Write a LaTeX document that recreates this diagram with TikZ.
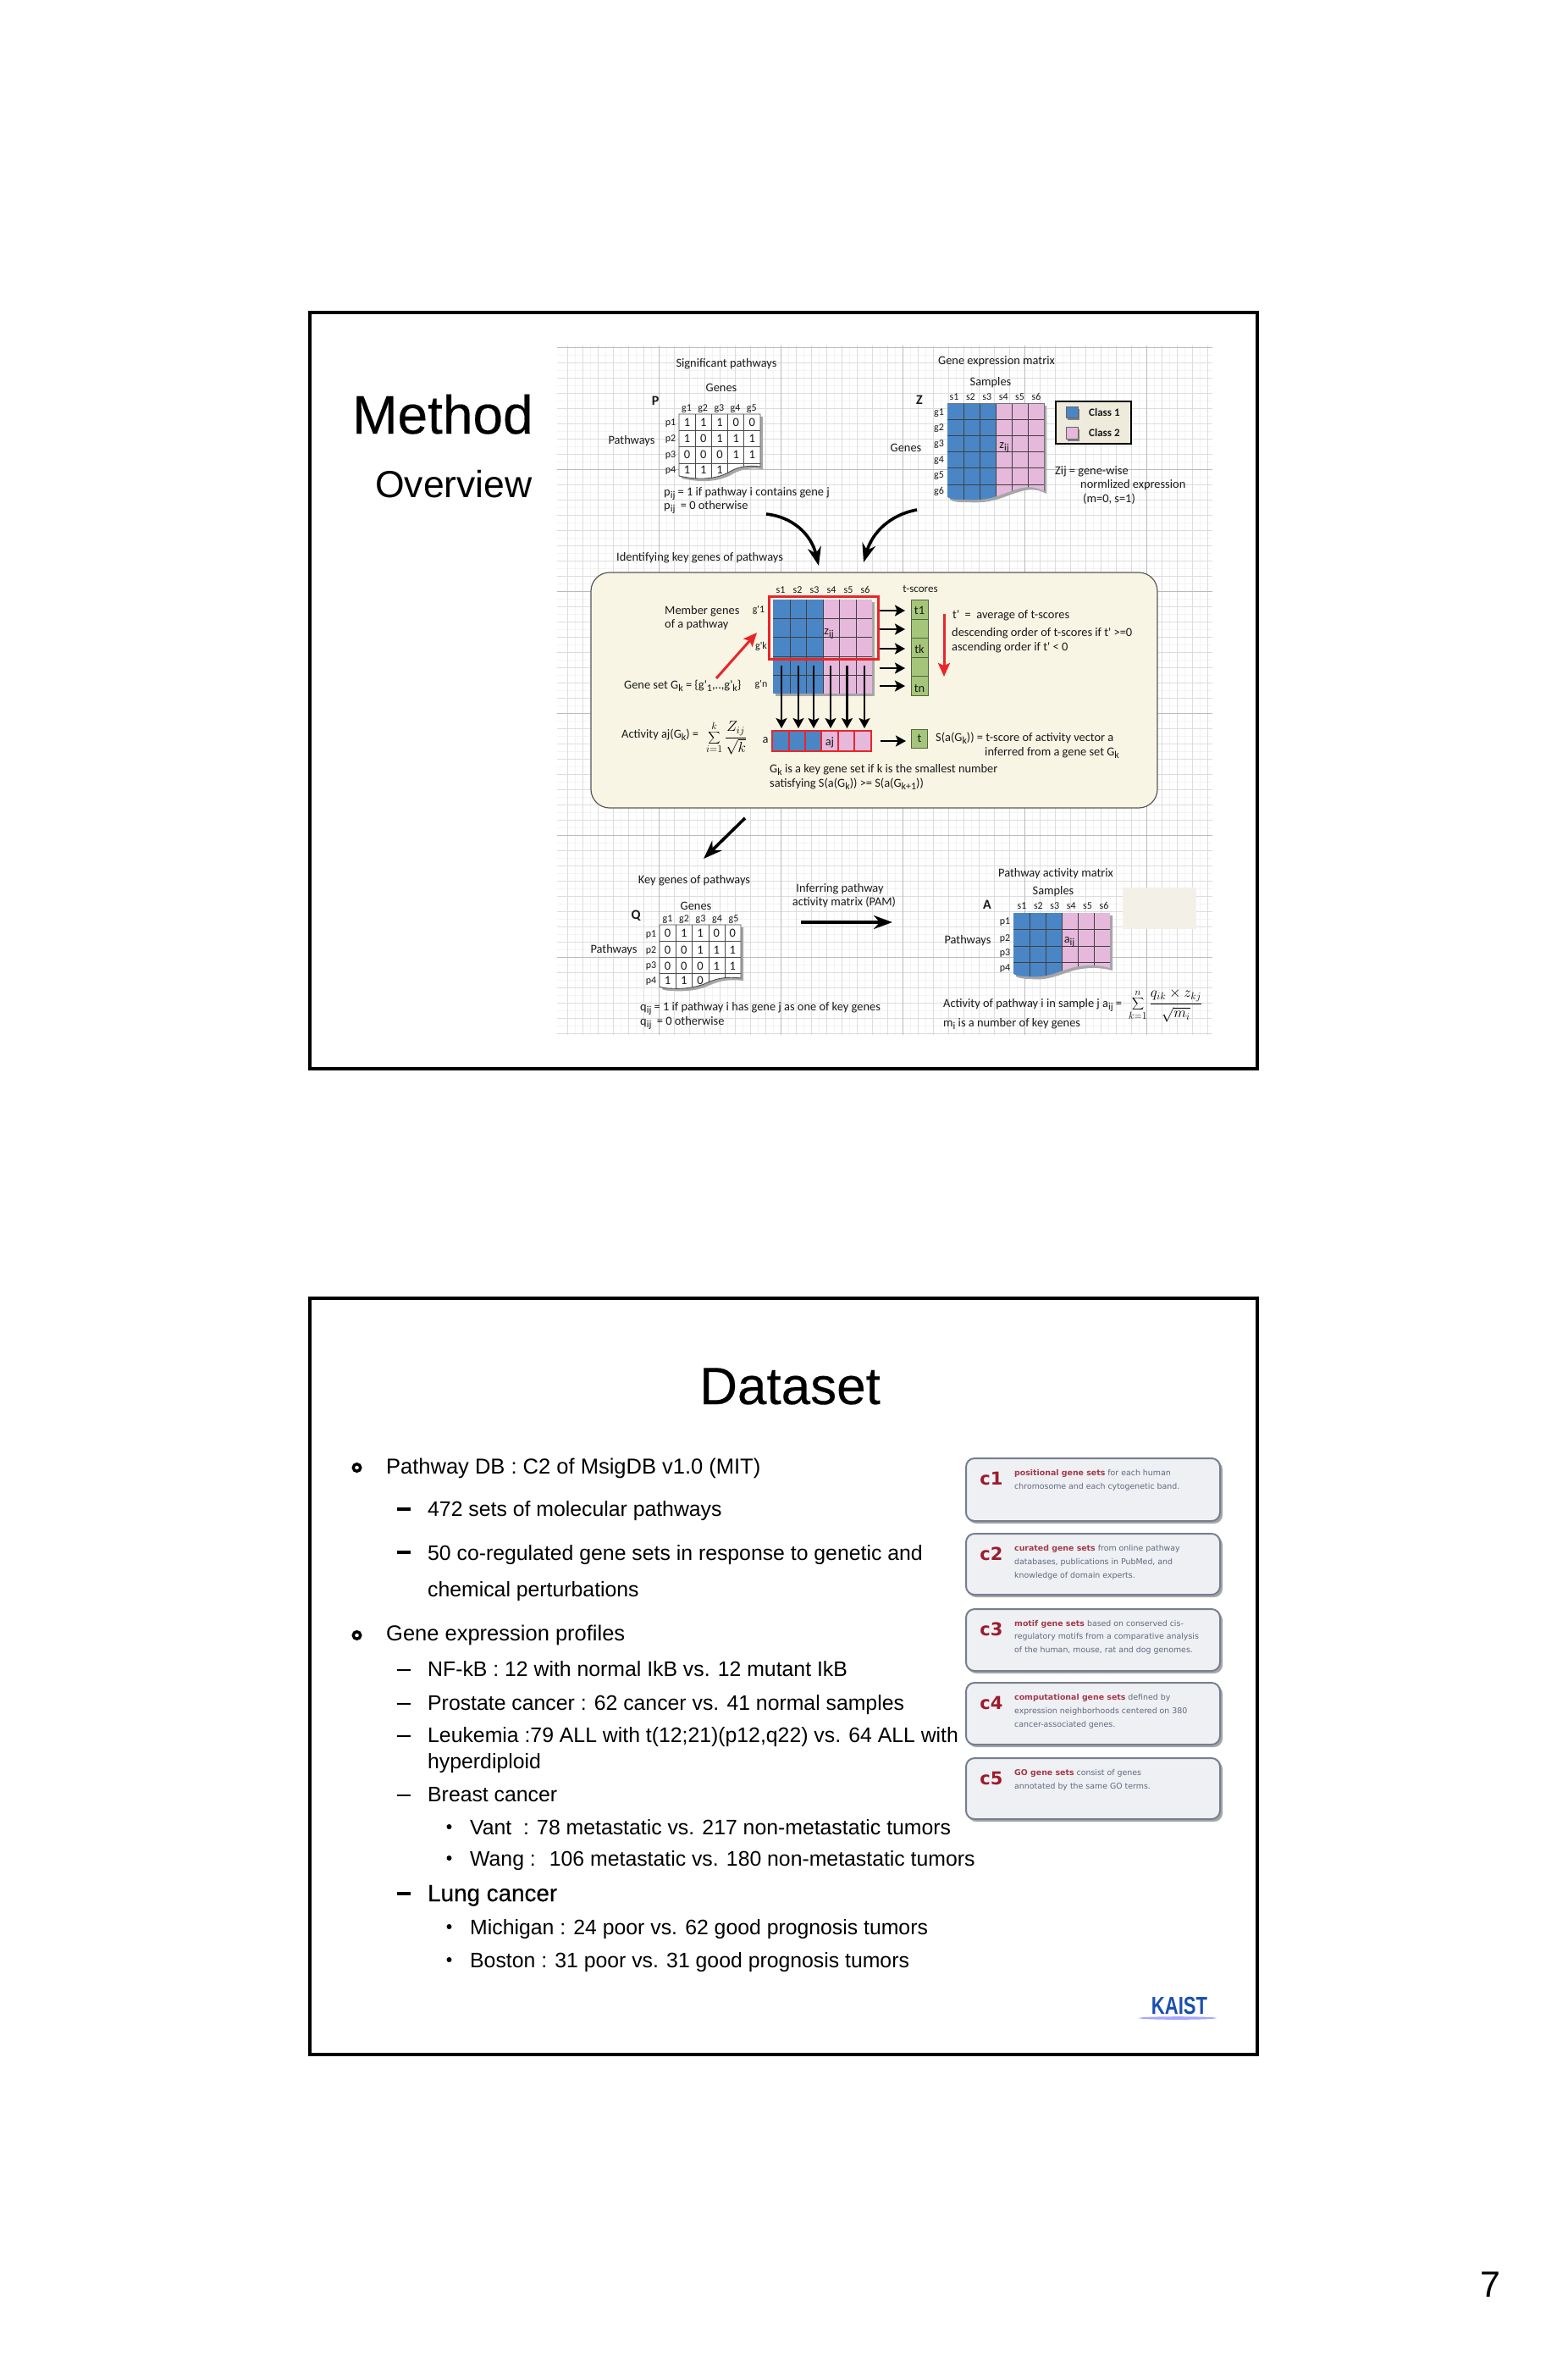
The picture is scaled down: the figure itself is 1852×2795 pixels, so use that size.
\documentclass[tikz,border=0pt]{standalone}
\usepackage{fontspec}
\setmainfont{Liberation Sans}
\newfontfamily\figfam{Carlito}
\newfontfamily\boxfam{DejaVu Sans}
\newfontfamily\lungfam[FakeBold=0.35]{Liberation Sans}
\newfontfamily\titlefam[FakeBold=0.25]{Liberation Sans}
\usetikzlibrary{arrows.meta}
\definecolor{blueC}{HTML}{4A86C5}
\definecolor{pinkC}{HTML}{E5B8DC}
\definecolor{gridA}{HTML}{DDDDDD}
\definecolor{gridB}{HTML}{BBBBBB}
\definecolor{gridC}{HTML}{F3F3F3}
\definecolor{panelC}{HTML}{F8F5E4}
\definecolor{legendC}{HTML}{EEEBDD}
\definecolor{greenC}{HTML}{A5C67A}
\definecolor{boxC}{HTML}{EEF0F4}
\definecolor{boxL}{HTML}{767F90}
\definecolor{redD}{HTML}{9B1C2C}
\definecolor{redT}{HTML}{A33A4A}
\definecolor{grayT}{HTML}{5F697D}
\definecolor{kaistC}{HTML}{1A4FB0}
\definecolor{redA}{HTML}{E8262A}
\newcommand\dn[1]{\raisebox{-3pt}{\fontsize{12}{12}\selectfont #1}}
\newcommand\rd[1]{\textbf{\textcolor{redT}{#1}}}
\tikzset{
  figt/.style={inner sep=0pt,font=\figfam\fontsize{14.4}{16}\selectfont,text=black!90,anchor=mid west,yshift=-1.5pt},
  figc/.style={figt,anchor=mid},
  figsm/.style={figc,font=\figfam\fontsize{12}{14}\selectfont},
  figb/.style={figc,font=\figfam\bfseries\fontsize{16}{18}\selectfont},
  figleg/.style={figt,font=\figfam\bfseries\fontsize{13}{15}\selectfont},
  cell/.style={figc,font=\figfam\fontsize{14.5}{16}\selectfont},
  matline/.style={draw=black!75,line width=1pt},
  binline/.style={draw=black!70,line width=.9pt},
  softshadow/.style={fill=black!35},
  bigarrow/.style={line width=3.6pt,draw=black,-{Stealth[length=22pt,width=16pt,inset=7pt]}},
  midarrow/.style={line width=2.3pt,draw=black,-{Stealth[length=12pt,width=13pt,inset=2.5pt]}},
  redarrow/.style={line width=3pt,draw=redA,-{Stealth[length=16pt,width=14pt,inset=3pt]}},
  frameS/.style={draw=black,line width=4pt},
  bodyt/.style={inner sep=0pt,anchor=base west,font=\fontsize{24.8}{28}\selectfont},
  bodyh/.style={bodyt,font=\fontsize{25.5}{28}\selectfont},
  dashS/.style={inner sep=0pt,minimum width=16.5pt,minimum height=2pt,fill=black},
  dashT/.style={dashS,minimum height=3.2pt},
  dotS/.style={circle,inner sep=0pt,minimum size=6pt,fill=black},
  ringS/.style={circle,inner sep=0pt,minimum size=8.5pt,draw=black,line width=3.4pt},
  cbox/.style={rounded corners=10pt,draw=boxL,line width=2pt,fill=boxC},
  cshadow/.style={rounded corners=10pt,fill=black!35},
  ctag/.style={inner sep=0pt,anchor=mid,font=\boxfam\bfseries\fontsize{21}{24}\selectfont,text=redD},
  ctxt/.style={inner sep=0pt,anchor=mid west,font=\boxfam\fontsize{9.4}{11}\selectfont,text=grayT},
  formula/.style={inner sep=0pt,anchor=mid west,font=\fontsize{17.28}{20}\selectfont},
}
\begin{document}
\begin{tikzpicture}[x=1pt,y=-1pt]
\useasboundingbox (0,0) rectangle (1852,2795);
\fill[white] (0,0) rectangle (1852,2795);

% ---------- slide 1 ----------
\foreach \y in {419,437,...,1211} \draw[gridC,line width=.8pt] (658,\y) -- (1432,\y);
\foreach \x in {679,697,...,1417} \draw[gridC,line width=.8pt] (\x,408) -- (\x,1222);
\foreach \y in {410,428,...,1222} \draw[gridA,line width=1pt] (658,\y) -- (1432,\y);
\foreach \x in {670,688,...,1426} \draw[gridA,line width=1pt] (\x,408) -- (\x,1222);
\foreach \y in {410,554,...,1222} \draw[gridB,line width=1pt] (658,\y) -- (1432,\y);
\foreach \x in {778,922,...,1426} \draw[gridB,line width=1pt] (\x,408) -- (\x,1222);

\draw[frameS] (366,369) rectangle (1485,1262);

\node[inner sep=0pt,anchor=base west,font=\titlefam\fontsize{64}{66}\selectfont] (method) at (416,512) {Method};
\node[inner sep=0pt,anchor=base west,font=\fontsize{44.5}{50}\selectfont] (overview) at (443,587) {Overview};

% ---- P matrix
\def\Ppath{(802,489) -- (898,489) -- (898,551) .. controls (880,549) and (870,552) .. (860,558) .. controls (845,566) and (825,567) .. (802,562) -- cycle}
\fill[softshadow,shift={(3,3)}] \Ppath;
\fill[white] \Ppath;
\begin{scope}
\clip \Ppath;
\foreach \x in {821,840,859,878} \draw[binline] (\x,489) -- (\x,570);
\foreach \y in {508,527,547} \draw[binline] (802,\y) -- (898,\y);
\end{scope}
\draw[binline] \Ppath;
\foreach \r/\y/\vals in {1/499/{1,1,1,0,0},2/518/{1,0,1,1,1},3/537/{0,0,0,1,1},4/555/{1,1,1}}
  \foreach \d [count=\c] in \vals
    \node[cell] (pc\r\c) at ({802+19.2*(\c-.5)},\y) {\d};
\foreach \t [count=\c] in {g1,g2,g3,g4,g5}
  \node[figsm] (pg\c) at ({811+19.2*(\c-1)},481) {\t};
\foreach \t/\y in {p1/498,p2/517,p3/536,p4/554}
  \node[figsm] (pp\t) at (792,\y) {\t};
\node[figc] (ptitle) at (858,429) {Significant pathways};
\node[figc] (pgenes) at (852,458) {Genes};
\node[figb] (pname) at (774,474) {P};
\node[figc] (ppath) at (746,520) {Pathways};
\node[figt] (pdef1) at (784,581) {p\dn{ij} = 1 if pathway i contains gene j};
\node[figt] (pdef0) at (784,597) {p\dn{ij} ~= 0 otherwise};

% ---- Z matrix
\def\Zpath{(1119,476) -- (1233,476) -- (1233,580) .. controls (1222,574) and (1212,574) .. (1200,578) .. controls (1180,584) and (1170,592) .. (1140,590) .. controls (1130,590) and (1123,590) .. (1119,587) -- cycle}
\fill[softshadow,shift={(3,3)}] \Zpath;
\begin{scope}
\clip \Zpath;
\fill[blueC] (1119,470) rectangle (1176,600);
\fill[pinkC] (1176,470) rectangle (1233,600);
\foreach \x in {1138,1157,1176,1195,1214} \draw[matline] (\x,476) -- (\x,600);
\foreach \y in {495,514,533,552,572} \draw[matline] (1119,\y) -- (1233,\y);
\end{scope}
\draw[matline,draw=black!55] (1119,476) -- (1233,476) -- (1233,580);
\foreach \t [count=\c] in {s1,s2,s3,s4,s5,s6}
  \node[figsm] (zs\c) at ({1127+19.4*(\c-1)},468) {\t};
\foreach \t/\y in {g1/486,g2/504,g3/523,g4/542,g5/560,g6/579}
  \node[figsm] (zg\t) at (1109,\y) {\t};
\node[figc] (ztitle) at (1177,426) {Gene expression matrix};
\node[figc] (zsamp) at (1170,451) {Samples};
\node[figb] (zname) at (1086,473) {Z};
\node[figc] (zgenes) at (1070,529) {Genes};
\node[figc] (zij) at (1186,525) {z\dn{ij}};
\node[figt] (zdef1) at (1246,556) {Zij = gene-wise};
\node[figt] (zdef2) at (1276,572) {normlized expression};
\node[figt] (zdef3) at (1279,589) {(m=0, s=1)};

% legend
\draw[draw=black,line width=2.5pt,fill=legendC] (1247,474) rectangle (1336,524);
\fill[black!50] (1261,483) rectangle (1275,496);
\fill[black!50] (1261,507) rectangle (1275,521);
\draw[fill=blueC,draw=black!60] (1259,480) rectangle (1273,493);
\draw[fill=pinkC,draw=black!60] (1259,504) rectangle (1273,518);
\node[figleg] (c1l) at (1286,487) {Class 1};
\node[figleg] (c2l) at (1286,511) {Class 2};

% arrows into panel
\node[figt] (idtitle) at (728,658) {Identifying key genes of pathways};
\coordinate (a1s) at (905,607);
\coordinate (a1e) at (967,668);
\coordinate (a2s) at (1083,602);
\coordinate (a2e) at (1020,664);
\draw[bigarrow] (a1s) .. controls (935,610) and (958,630) .. (a1e);
\draw[bigarrow] (a2s) .. controls (1050,608) and (1030,630) .. (a2e);

% ---- panel
\draw[fill=panelC,draw=black!65,line width=1.2pt,rounded corners=22pt] (698,676) rectangle (1367,954);
\foreach \t [count=\c] in {s1,s2,s3,s4,s5,s6}
  \node[figsm] (ms\c) at ({922+20*(\c-1)},696) {\t};
\node[figc,font=\figfam\fontsize{13}{15}\selectfont] (tsc) at (1087,695) {t-scores};
\fill[softshadow] (916,711) rectangle (1033,822);
\fill[blueC] (913,708) rectangle (972,819);
\fill[pinkC] (972,708) rectangle (1030,819);
\foreach \x in {933,952,972,991,1011} \draw[matline] (\x,708) -- (\x,819);
\foreach \y in {730,752,775,797} \draw[matline] (913,\y) -- (1030,\y);
\draw[draw=redA,line width=3pt] (908,704) rectangle (1037,778);
\node[figsm] (g1p) at (896,719) {g'1};
\node[figsm] (gkp) at (899,762) {g'k};
\node[figsm] (gnp) at (899,807) {g'n};
\node[figc] (mzij) at (979,745) {z\dn{ij}};
\node[figt] (mem1) at (785,721) {Member genes};
\node[figt] (mem2) at (785,737) {of  a pathway};
\coordinate (ras) at (846,801);
\coordinate (rae) at (894,747);
\draw[redarrow] (ras) -- (rae);
\node[figt] (gset) at (737,809) {Gene set G\dn{k} = \{g'\dn{1},..,g'\dn{k}\}};
\foreach \x [count=\c] in {923,943,961,981,1000.5,1021} {
  \coordinate (ds\c) at (\x,786);
  \coordinate (de\c) at (\x,860);
  \draw[midarrow] (ds\c) -- (de\c);
}
% activity row
\fill[blueC] (912,863) rectangle (970,887);
\fill[pinkC] (970,863) rectangle (1029,887);
\draw[draw=redA,line width=1.6pt] (912,863) rectangle (1029,887);
\foreach \x in {932,951,970,990,1009} \draw[draw=redA,line width=1.6pt] (\x,863) -- (\x,887);
\node[figc] (aj) at (980,876) {aj};
\node[figc] (alab) at (904,873) {a};
\node[figt] (actl) at (734,867) {Activity aj(G\dn{k}) =};
\node[formula] (actf) at (834,873) {$\displaystyle\sum_{i=1}^{k}\frac{Z_{ij}}{\sqrt{k}}$};
% t column
\foreach \a/\b in {708/731,731/753,753/776,776/798,798/821}
  \draw[fill=greenC,draw=black!50!greenC,line width=1pt] (1076,\a) rectangle (1096.5,\b);
\node[figc] (t1) at (1086,721) {t1};
\node[figc] (tk) at (1086,767) {tk};
\node[figc] (tn) at (1086,813) {tn};
\foreach \y [count=\c] in {721,743,766,789,810} {
  \coordinate (rs\c) at (1039,\y);
  \coordinate (re\c) at (1069,\y);
  \draw[midarrow] (rs\c) -- (re\c);
}
\coordinate (rds) at (1115,725);
\coordinate (rde) at (1115,799);
\draw[redarrow] (rds) -- (rde);
\node[figt] (tp1) at (1125,726) {t'  ~=~ average of t-scores};
\node[figt] (tp2) at (1124,747) {descending order of t-scores if t' >=0};
\node[figt] (tp3) at (1124,764) {ascending order if t' < 0};
\coordinate (ars) at (1040,875);
\coordinate (are) at (1070,875);
\draw[midarrow] (ars) -- (are);
\draw[fill=greenC,draw=black!50!greenC,line width=1pt] (1076,861) rectangle (1095.5,883);
\node[figc] (tact) at (1086,872) {t};
\node[figt] (sa1) at (1105,871) {S(a(G\dn{k})) = t-score of activity vector a};
\node[figt] (sa2) at (1163,888) {inferred from a gene set G\dn{k}};
\node[figt] (gk1) at (909,908) {G\dn{k} is a key gene set  if k is the smallest number};
\node[figt] (gk2) at (909,925) {satisfying S(a(G\dn{k})) >= S(a(G\dn{k+1}))};

% ---- lower part
\coordinate (a3s) at (880,966);
\coordinate (a3e) at (831,1014);
\draw[bigarrow] (a3s) -- (a3e);
\node[figc] (ktitle) at (820,1039) {Key genes of pathways};
\node[figc] (inf1) at (992,1049) {Inferring pathway};
\node[figc] (inf2) at (997,1065) {activity matrix (PAM)};
\coordinate (a4s) at (946,1089);
\coordinate (a4e) at (1054,1089);
\draw[bigarrow] (a4s) -- (a4e);
\node[figc] (atitle) at (1247,1031) {Pathway activity matrix};
\node[figc] (asamp) at (1244,1052) {Samples};
\node[figb] (aname) at (1166,1069) {A};
\foreach \t [count=\c] in {s1,s2,s3,s4,s5,s6}
  \node[figsm] (as\c) at ({1207+19.4*(\c-1)},1069) {\t};
\def\Apath{(1197,1078) -- (1311,1078) -- (1311,1143) .. controls (1300,1140) and (1285,1138) .. (1265,1143) .. controls (1245,1149) and (1235,1155) .. (1214,1153) .. controls (1207,1153) and (1200,1152) .. (1197,1150) -- cycle}
\fill[softshadow,shift={(3,3)}] \Apath;
\begin{scope}
\clip \Apath;
\fill[blueC] (1197,1070) rectangle (1254,1160);
\fill[pinkC] (1254,1070) rectangle (1311,1160);
\foreach \x in {1216,1235,1254,1273,1292} \draw[matline] (\x,1078) -- (\x,1160);
\foreach \y in {1097,1117,1136} \draw[matline] (1197,\y) -- (1311,\y);
\end{scope}
\foreach \t/\y in {p1/1087,p2/1107,p3/1124,p4/1142}
  \node[figsm] (ap\t) at (1187,\y) {\t};
\node[figc] (apath) at (1143,1110) {Pathways};
\node[figc] (aij) at (1263,1109) {a\dn{ij}};
\fill[legendC!70!white] (1326,1048) rectangle (1413,1097);

% Q matrix
\def\Qpath{(779,1092) -- (875,1092) -- (875,1155) .. controls (858,1153) and (848,1155) .. (836,1160) .. controls (822,1167) and (805,1168) .. (790,1167) .. controls (785,1167) and (781,1166) .. (779,1165) -- cycle}
\fill[softshadow,shift={(3,3)}] \Qpath;
\fill[white] \Qpath;
\begin{scope}
\clip \Qpath;
\foreach \x in {798,817,837,856} \draw[binline] (\x,1092) -- (\x,1175);
\foreach \y in {1111,1130,1149} \draw[binline] (779,\y) -- (875,\y);
\end{scope}
\draw[binline] \Qpath;
\foreach \r/\y/\vals in {1/1102/{0,1,1,0,0},2/1122/{0,0,1,1,1},3/1141/{0,0,0,1,1},4/1158/{1,1,0}}
  \foreach \d [count=\c] in \vals
    \node[cell] (qc\r\c) at ({779+19.2*(\c-.5)},\y) {\d};
\foreach \t [count=\c] in {g1,g2,g3,g4,g5}
  \node[figsm] (qg\c) at ({788.5+19.5*(\c-1)},1084) {\t};
\foreach \t/\y in {p1/1102,p2/1121,p3/1139,p4/1157}
  \node[figsm] (qp\t) at (769,\y) {\t};
\node[figb] (qname) at (751,1081) {Q};
\node[figc] (qgenes) at (822,1070) {Genes};
\node[figc] (qpath) at (725,1121) {Pathways};
\node[figt] (qdef1) at (756,1189) {q\dn{ij} = 1 if pathway i has gene j as one of key genes};
\node[figt] (qdef0) at (756,1206) {q\dn{ij} ~= 0 otherwise};
\node[figt] (adef) at (1114,1185) {Activity of pathway i in sample j a\dn{ij} =};
\node[formula] (aform) at (1333,1187) {$\displaystyle\sum_{k=1}^{n}\frac{q_{ik}\times z_{kj}}{\sqrt{m_i}}$};
\node[figt] (mdef) at (1114,1208) {m\dn{i} is a number of key genes};

% ---------- slide 2 ----------
\draw[frameS] (366,1533) rectangle (1485,2426);
\node[inner sep=0pt,anchor=base west,font=\titlefam\fontsize{62}{66}\selectfont] (dataset) at (826,1658) {Dataset};

\node[ringS] (b1) at (421.5,1733) {};
\node[ringS] (b2) at (421.5,1931) {};
\node[bodyh] (l1) at (456,1740) {Pathway DB : C2 of MsigDB v1.0 (MIT)};
\node[dashT] (d2) at (477,1782) {};
\node[bodyt] (l2) at (505,1790) {472 sets of molecular pathways};
\node[dashT] (d3) at (477,1833) {};
\node[bodyt] (l3) at (505,1842) {50 co-regulated gene sets in response to genetic and};
\node[bodyt] (l3b) at (505,1885) {chemical perturbations};
\node[bodyh] (l4) at (456,1937) {Gene expression profiles};
\foreach \y/\t [count=\c] in {1979/{NF-kB : 12 with normal IkB vs. 12 mutant IkB},
   2019/{Prostate cancer : 62 cancer vs. 41 normal samples},
   2057/{Leukemia :79 ALL with t(12;21)(p12,q22) vs. 64 ALL with},
   2127/{Breast cancer}} {
  \node[dashS] (sd\c) at (477,\y-7) {};
  \node[bodyt] (sl\c) at (505,\y) {\t};
}
\node[bodyt] (hyp) at (505,2088) {hyperdiploid};
\foreach \y/\t [count=\c] in {2166/{Vant ~: 78 metastatic vs. 217 non-metastatic tumors},
   2203/{Wang : ~106 metastatic vs. 180 non-metastatic tumors},
   2284/{Michigan : 24 poor vs. 62 good prognosis tumors},
   2323/{Boston : 31 poor vs. 31 good prognosis tumors}} {
  \node[dotS] (td\c) at (530.5,\y-9) {};
  \node[bodyt] (tl\c) at (555,\y) {\t};
}
\node[dashT] (d4) at (477,2236) {};
\node[bodyt,font=\lungfam\fontsize{27.8}{30}\selectfont] (lung) at (505,2245) {Lung cancer};

% c boxes
\foreach \t/\b/\n in {1722/1796/1,1811/1883/2,1900/1973/3,1987/2060/4,2076/2148/5} {
  \fill[cshadow] (1143,\t+3) rectangle (1444,\b+3);
  \draw[cbox] (1141,\t) rectangle (1441,\b);
  \node[ctag] (ct\n) at (1171,\t+29) {c\n};
}
\node[ctxt] (c11) at (1198,1740) {\rd{positional gene sets} for each human};
\node[ctxt] (c12) at (1198,1756) {chromosome and each cytogenetic band.};
\node[ctxt] (c21) at (1198,1829) {\rd{curated gene sets} from online pathway};
\node[ctxt] (c22) at (1198,1845) {databases, publications in PubMed, and};
\node[ctxt] (c23) at (1198,1861) {knowledge of domain experts.};
\node[ctxt] (c31) at (1198,1918) {\rd{motif gene sets} based on conserved cis-};
\node[ctxt] (c32) at (1198,1933) {regulatory motifs from a comparative analysis};
\node[ctxt] (c33) at (1198,1949) {of the human, mouse, rat and dog genomes.};
\node[ctxt] (c41) at (1198,2005) {\rd{computational gene sets} defined by};
\node[ctxt] (c42) at (1198,2021) {expression neighborhoods centered on 380};
\node[ctxt] (c43) at (1198,2037) {cancer-associated genes.};
\node[ctxt] (c51) at (1198,2094) {\rd{GO gene sets}  consist of genes};
\node[ctxt] (c52) at (1198,2110) {annotated by the same GO terms.};

% KAIST
\fill[blue!35!white] (1391,2383) ellipse (46 and 1.8);
\node[inner sep=0pt,anchor=base,xscale=.76,transform shape,font=\bfseries\fontsize{29}{30}\selectfont,text=kaistC] (kaist) at (1393,2378) {KAIST};

% page number
\node[inner sep=0pt,anchor=base,font=\fontsize{43}{46}\selectfont] (page) at (1760,2712) {7};
\end{tikzpicture}
\end{document}
